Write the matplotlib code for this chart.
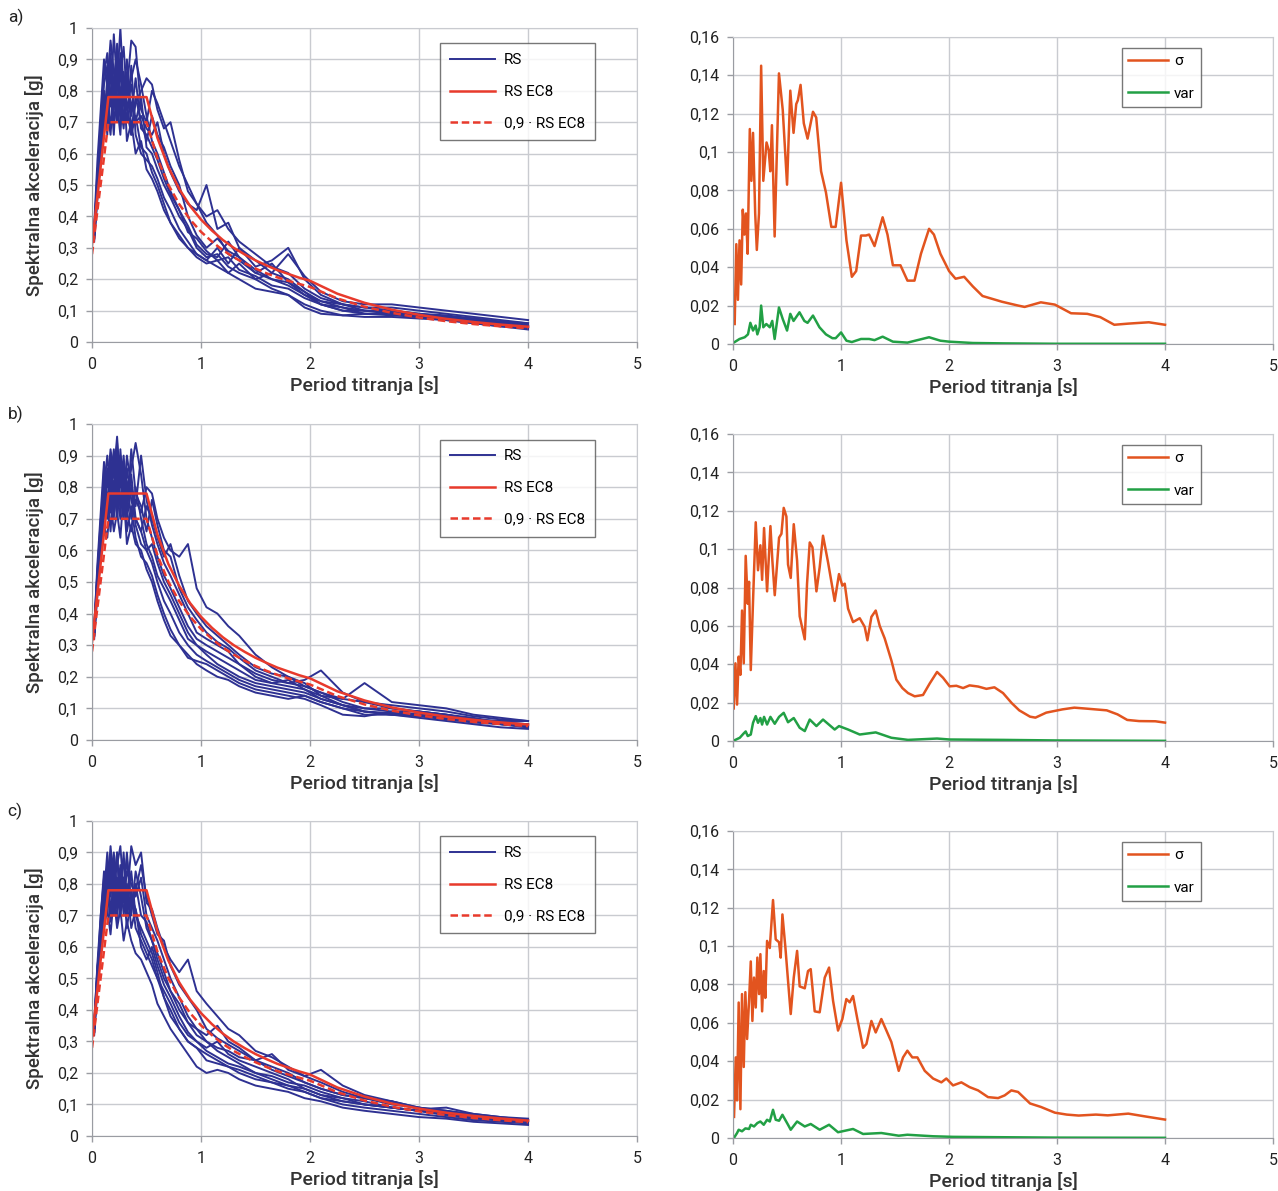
import matplotlib
matplotlib.use("Agg")
import matplotlib.pyplot as plt
from matplotlib.ticker import FuncFormatter, MultipleLocator

# --- response spectra (RS) of the records, common period grid [s] ---
period_rs = [0.02, 0.05, 0.08, 0.11, 0.14, 0.17, 0.2, 0.23, 0.26, 0.29, 0.32, 0.36, 0.4, 0.45, 0.5,
             0.55, 0.6, 0.66, 0.72, 0.8, 0.88, 0.96, 1.05, 1.15, 1.25, 1.35, 1.5, 1.65, 1.8, 1.95,
             2.1, 2.3, 2.5, 2.75, 3.0, 3.25, 3.5, 3.75, 4.0]

rs_a = [
    [0.33, 0.48, 0.62, 0.78, 0.72, 0.88, 0.80, 0.95, 0.78, 0.86, 0.74, 0.82, 0.70, 0.78, 0.62, 0.60, 0.55, 0.50, 0.46, 0.40,
     0.36, 0.30, 0.27, 0.28, 0.24, 0.22, 0.20, 0.17, 0.15, 0.12, 0.10, 0.085, 0.08, 0.08, 0.075, 0.07, 0.06, 0.05, 0.045],
    [0.36, 0.52, 0.70, 0.85, 0.92, 0.75, 0.98, 0.82, 1.0, 0.80, 0.90, 0.72, 0.84, 0.68, 0.66, 0.62, 0.58, 0.52, 0.47, 0.42,
     0.35, 0.33, 0.29, 0.26, 0.27, 0.23, 0.21, 0.18, 0.17, 0.14, 0.12, 0.10, 0.09, 0.09, 0.085, 0.08, 0.07, 0.06, 0.05],
    [0.34, 0.50, 0.66, 0.70, 0.84, 0.68, 0.78, 0.72, 0.88, 0.70, 0.80, 0.96, 0.94, 0.74, 0.70, 0.80, 0.76, 0.70, 0.64, 0.56,
     0.50, 0.44, 0.38, 0.34, 0.28, 0.26, 0.22, 0.20, 0.18, 0.15, 0.13, 0.12, 0.11, 0.11, 0.10, 0.09, 0.08, 0.07, 0.06],
    [0.35, 0.55, 0.60, 0.80, 0.66, 0.90, 0.70, 0.76, 0.66, 0.84, 0.64, 0.70, 0.60, 0.64, 0.55, 0.52, 0.48, 0.42, 0.38, 0.34,
     0.30, 0.28, 0.26, 0.30, 0.25, 0.30, 0.24, 0.26, 0.30, 0.20, 0.15, 0.12, 0.10, 0.09, 0.08, 0.075, 0.065, 0.055, 0.045],
    [0.32, 0.46, 0.58, 0.72, 0.78, 0.85, 0.74, 0.90, 0.72, 0.76, 0.86, 0.68, 0.76, 0.80, 0.84, 0.82, 0.74, 0.68, 0.70, 0.58,
     0.48, 0.44, 0.40, 0.42, 0.36, 0.32, 0.28, 0.24, 0.22, 0.17, 0.14, 0.12, 0.11, 0.10, 0.09, 0.085, 0.075, 0.065, 0.055],
    [0.37, 0.58, 0.74, 0.90, 0.82, 0.96, 0.86, 0.74, 0.92, 0.78, 0.70, 0.88, 0.66, 0.60, 0.58, 0.56, 0.52, 0.46, 0.42, 0.36,
     0.32, 0.28, 0.26, 0.24, 0.22, 0.20, 0.17, 0.16, 0.15, 0.11, 0.09, 0.085, 0.09, 0.09, 0.08, 0.07, 0.06, 0.05, 0.04],
    [0.34, 0.50, 0.64, 0.76, 0.70, 0.80, 0.66, 0.86, 0.76, 0.68, 0.82, 0.76, 0.70, 0.72, 0.68, 0.66, 0.70, 0.60, 0.54, 0.48,
     0.44, 0.42, 0.50, 0.36, 0.38, 0.30, 0.26, 0.22, 0.20, 0.16, 0.13, 0.11, 0.09, 0.085, 0.08, 0.075, 0.065, 0.055, 0.05],
    [0.33, 0.47, 0.61, 0.68, 0.74, 0.66, 0.82, 0.70, 0.80, 0.72, 0.76, 0.66, 0.72, 0.62, 0.60, 0.54, 0.50, 0.44, 0.38, 0.33,
     0.30, 0.27, 0.25, 0.26, 0.22, 0.25, 0.20, 0.22, 0.28, 0.21, 0.16, 0.13, 0.12, 0.12, 0.11, 0.10, 0.09, 0.08, 0.07],
    [0.35, 0.53, 0.68, 0.82, 0.88, 0.78, 0.84, 0.92, 0.70, 0.80, 0.74, 0.66, 0.78, 0.70, 0.64, 0.72, 0.66, 0.62, 0.56, 0.50,
     0.40, 0.34, 0.30, 0.33, 0.29, 0.27, 0.23, 0.20, 0.19, 0.16, 0.12, 0.10, 0.10, 0.10, 0.09, 0.08, 0.075, 0.065, 0.06],
    [0.34, 0.49, 0.63, 0.74, 0.80, 0.92, 0.76, 0.80, 0.86, 0.94, 0.78, 0.84, 0.90, 0.82, 0.72, 0.64, 0.60, 0.54, 0.48, 0.42,
     0.37, 0.31, 0.28, 0.27, 0.32, 0.27, 0.22, 0.25, 0.19, 0.15, 0.12, 0.11, 0.10, 0.095, 0.085, 0.08, 0.07, 0.06, 0.05],
]

rs_b = [
    [0.33, 0.50, 0.66, 0.82, 0.74, 0.88, 0.76, 0.94, 0.72, 0.84, 0.70, 0.80, 0.68, 0.62, 0.60, 0.56, 0.50, 0.44, 0.40, 0.34,
     0.30, 0.27, 0.25, 0.23, 0.21, 0.19, 0.17, 0.16, 0.15, 0.14, 0.12, 0.10, 0.09, 0.08, 0.075, 0.065, 0.055, 0.05, 0.045],
    [0.35, 0.56, 0.72, 0.88, 0.80, 0.92, 0.84, 0.96, 0.80, 0.90, 0.76, 0.86, 0.94, 0.84, 0.70, 0.64, 0.58, 0.52, 0.48, 0.42,
     0.36, 0.32, 0.30, 0.28, 0.26, 0.24, 0.21, 0.19, 0.18, 0.19, 0.22, 0.15, 0.12, 0.10, 0.09, 0.08, 0.065, 0.06, 0.06],
    [0.32, 0.48, 0.62, 0.70, 0.78, 0.66, 0.82, 0.70, 0.86, 0.74, 0.82, 0.70, 0.76, 0.72, 0.80, 0.78, 0.70, 0.64, 0.60, 0.58,
     0.62, 0.48, 0.42, 0.40, 0.36, 0.33, 0.27, 0.23, 0.20, 0.17, 0.15, 0.13, 0.12, 0.11, 0.10, 0.09, 0.075, 0.065, 0.06],
    [0.34, 0.52, 0.60, 0.76, 0.86, 0.72, 0.90, 0.78, 0.70, 0.88, 0.66, 0.74, 0.64, 0.58, 0.56, 0.52, 0.46, 0.40, 0.35, 0.30,
     0.27, 0.24, 0.22, 0.20, 0.19, 0.17, 0.15, 0.14, 0.13, 0.14, 0.12, 0.10, 0.08, 0.08, 0.07, 0.06, 0.05, 0.04, 0.035],
    [0.36, 0.54, 0.68, 0.74, 0.70, 0.84, 0.72, 0.80, 0.90, 0.70, 0.86, 0.76, 0.70, 0.66, 0.74, 0.70, 0.64, 0.58, 0.62, 0.52,
     0.44, 0.40, 0.36, 0.33, 0.30, 0.27, 0.23, 0.21, 0.20, 0.18, 0.14, 0.11, 0.09, 0.085, 0.08, 0.07, 0.06, 0.05, 0.045],
    [0.33, 0.46, 0.58, 0.68, 0.64, 0.76, 0.66, 0.72, 0.64, 0.78, 0.62, 0.68, 0.62, 0.60, 0.54, 0.50, 0.44, 0.38, 0.33, 0.30,
     0.26, 0.25, 0.24, 0.22, 0.20, 0.18, 0.16, 0.15, 0.14, 0.13, 0.11, 0.08, 0.075, 0.09, 0.08, 0.07, 0.06, 0.05, 0.04],
    [0.34, 0.51, 0.64, 0.80, 0.90, 0.78, 0.86, 0.74, 0.82, 0.76, 0.90, 0.80, 0.74, 0.90, 0.76, 0.68, 0.62, 0.56, 0.52, 0.46,
     0.40, 0.34, 0.32, 0.30, 0.28, 0.24, 0.20, 0.18, 0.17, 0.16, 0.14, 0.13, 0.18, 0.12, 0.11, 0.10, 0.08, 0.07, 0.06],
    [0.35, 0.53, 0.70, 0.72, 0.82, 0.90, 0.70, 0.88, 0.74, 0.80, 0.72, 0.66, 0.80, 0.70, 0.62, 0.58, 0.52, 0.48, 0.44, 0.38,
     0.32, 0.30, 0.27, 0.24, 0.22, 0.20, 0.18, 0.17, 0.16, 0.15, 0.13, 0.11, 0.10, 0.10, 0.09, 0.08, 0.065, 0.055, 0.05],
    [0.34, 0.52, 0.66, 0.86, 0.76, 0.82, 0.92, 0.80, 0.76, 0.86, 0.72, 0.92, 0.78, 0.74, 0.66, 0.76, 0.68, 0.60, 0.58, 0.48,
     0.42, 0.38, 0.34, 0.31, 0.29, 0.26, 0.22, 0.20, 0.18, 0.17, 0.15, 0.12, 0.10, 0.09, 0.09, 0.08, 0.07, 0.055, 0.05],
    [0.33, 0.49, 0.64, 0.78, 0.84, 0.76, 0.88, 0.70, 0.92, 0.78, 0.74, 0.84, 0.70, 0.66, 0.60, 0.62, 0.56, 0.50, 0.46, 0.40,
     0.34, 0.30, 0.28, 0.26, 0.24, 0.22, 0.19, 0.18, 0.19, 0.16, 0.13, 0.11, 0.09, 0.08, 0.08, 0.07, 0.06, 0.05, 0.04],
]

rs_c = [
    [0.33, 0.50, 0.64, 0.78, 0.70, 0.86, 0.74, 0.90, 0.72, 0.82, 0.70, 0.78, 0.66, 0.62, 0.58, 0.54, 0.50, 0.44, 0.40, 0.34,
     0.30, 0.28, 0.26, 0.24, 0.22, 0.20, 0.18, 0.17, 0.15, 0.14, 0.12, 0.10, 0.09, 0.08, 0.07, 0.06, 0.05, 0.045, 0.04],
    [0.35, 0.55, 0.70, 0.84, 0.78, 0.92, 0.80, 0.86, 0.92, 0.78, 0.88, 0.74, 0.80, 0.70, 0.68, 0.62, 0.56, 0.50, 0.46, 0.40,
     0.36, 0.32, 0.30, 0.27, 0.25, 0.23, 0.20, 0.19, 0.17, 0.16, 0.14, 0.12, 0.11, 0.09, 0.08, 0.07, 0.06, 0.05, 0.05],
    [0.32, 0.47, 0.60, 0.70, 0.80, 0.68, 0.84, 0.72, 0.80, 0.88, 0.74, 0.92, 0.86, 0.90, 0.74, 0.72, 0.66, 0.60, 0.56, 0.52,
     0.56, 0.46, 0.42, 0.38, 0.34, 0.32, 0.27, 0.25, 0.22, 0.19, 0.17, 0.14, 0.12, 0.10, 0.09, 0.08, 0.065, 0.055, 0.05],
    [0.34, 0.52, 0.66, 0.74, 0.86, 0.72, 0.78, 0.68, 0.84, 0.70, 0.80, 0.66, 0.72, 0.64, 0.60, 0.56, 0.50, 0.46, 0.42, 0.36,
     0.32, 0.30, 0.28, 0.30, 0.26, 0.24, 0.22, 0.20, 0.18, 0.15, 0.13, 0.11, 0.10, 0.09, 0.08, 0.07, 0.06, 0.05, 0.045],
    [0.36, 0.54, 0.62, 0.80, 0.74, 0.82, 0.90, 0.76, 0.86, 0.74, 0.84, 0.80, 0.76, 0.82, 0.70, 0.66, 0.62, 0.56, 0.50, 0.44,
     0.38, 0.34, 0.30, 0.28, 0.27, 0.25, 0.24, 0.26, 0.21, 0.19, 0.21, 0.16, 0.13, 0.11, 0.09, 0.075, 0.065, 0.055, 0.05],
    [0.33, 0.48, 0.58, 0.66, 0.72, 0.64, 0.76, 0.66, 0.72, 0.62, 0.68, 0.62, 0.58, 0.56, 0.52, 0.48, 0.42, 0.38, 0.34, 0.30,
     0.26, 0.22, 0.20, 0.21, 0.20, 0.18, 0.16, 0.15, 0.14, 0.12, 0.11, 0.09, 0.08, 0.07, 0.06, 0.055, 0.045, 0.04, 0.035],
    [0.34, 0.51, 0.68, 0.76, 0.90, 0.76, 0.86, 0.80, 0.74, 0.82, 0.76, 0.70, 0.84, 0.76, 0.66, 0.62, 0.58, 0.52, 0.46, 0.42,
     0.36, 0.34, 0.32, 0.35, 0.30, 0.28, 0.24, 0.22, 0.20, 0.17, 0.15, 0.13, 0.12, 0.11, 0.085, 0.09, 0.07, 0.06, 0.055],
    [0.35, 0.53, 0.64, 0.72, 0.76, 0.88, 0.70, 0.82, 0.76, 0.90, 0.72, 0.84, 0.70, 0.66, 0.62, 0.58, 0.52, 0.44, 0.38, 0.34,
     0.30, 0.28, 0.24, 0.23, 0.22, 0.21, 0.19, 0.17, 0.16, 0.15, 0.13, 0.12, 0.10, 0.09, 0.08, 0.07, 0.06, 0.05, 0.045],
    [0.35, 0.52, 0.70, 0.82, 0.74, 0.80, 0.88, 0.74, 0.82, 0.76, 0.90, 0.72, 0.78, 0.86, 0.76, 0.70, 0.64, 0.62, 0.54, 0.48,
     0.44, 0.40, 0.34, 0.31, 0.29, 0.27, 0.24, 0.21, 0.19, 0.17, 0.15, 0.13, 0.12, 0.11, 0.09, 0.08, 0.07, 0.06, 0.05],
    [0.33, 0.50, 0.62, 0.76, 0.84, 0.70, 0.80, 0.90, 0.70, 0.78, 0.66, 0.76, 0.72, 0.60, 0.56, 0.60, 0.54, 0.48, 0.44, 0.38,
     0.33, 0.30, 0.27, 0.25, 0.23, 0.22, 0.20, 0.18, 0.16, 0.14, 0.12, 0.11, 0.10, 0.09, 0.08, 0.065, 0.055, 0.05, 0.045],
]

# --- EC8 design spectrum and 0.9 * EC8 ---
period_ec8 = [0.0, 0.15, 0.5, 0.6, 0.7, 0.8, 0.9, 1.0, 1.1, 1.2, 1.3, 1.4, 1.5, 1.6, 1.7, 1.8, 1.9, 2.0,
              2.25, 2.5, 2.75, 3.0, 3.25, 3.5, 3.75, 4.0]
ec8 = [0.31, 0.78, 0.78, 0.65, 0.557, 0.4875, 0.433, 0.39, 0.355, 0.325, 0.30, 0.279, 0.26, 0.244, 0.229, 0.217,
       0.205, 0.195, 0.154, 0.125, 0.103, 0.0867, 0.0738, 0.0637, 0.0555, 0.0488]
ec8_90 = [0.28, 0.70, 0.70, 0.585, 0.501, 0.439, 0.39, 0.351, 0.32, 0.2925, 0.27, 0.251, 0.234, 0.219, 0.206,
          0.195, 0.185, 0.1755, 0.139, 0.1125, 0.093, 0.078, 0.0665, 0.0573, 0.05, 0.0439]

# --- standard deviation and variance ---
sigma_a_t = [0.015, 0.03, 0.045, 0.06, 0.075, 0.09, 0.105, 0.12, 0.135, 0.155, 0.17, 0.185, 0.205, 0.22, 0.24,
             0.26, 0.28, 0.31, 0.33, 0.345, 0.36, 0.385, 0.425, 0.46, 0.50, 0.53, 0.56, 0.585, 0.60, 0.625,
             0.655, 0.69, 0.74, 0.77, 0.815, 0.86, 0.91, 0.95, 1.0, 1.05, 1.10, 1.14, 1.185, 1.23, 1.26,
             1.31, 1.385, 1.43, 1.48, 1.55, 1.615, 1.68, 1.74, 1.815, 1.86, 1.92, 2.0, 2.06, 2.14, 2.22,
             2.31, 2.37, 2.49, 2.64, 2.70, 2.85, 2.98, 3.13, 3.28, 3.40, 3.53, 3.66, 3.85, 4.0]
sigma_a = [0.0104, 0.052, 0.023, 0.054, 0.031, 0.070, 0.057, 0.068, 0.047, 0.112, 0.085, 0.110, 0.068, 0.049, 0.068,
           0.145, 0.085, 0.105, 0.101, 0.090, 0.114, 0.056, 0.141, 0.122, 0.083, 0.132, 0.110, 0.125, 0.127, 0.135,
           0.115, 0.107, 0.121, 0.118, 0.090, 0.079, 0.061, 0.061, 0.084, 0.054, 0.035, 0.038, 0.0565, 0.0565, 0.057,
           0.051, 0.066, 0.057, 0.041, 0.041, 0.033, 0.033, 0.047, 0.060, 0.057, 0.047, 0.038, 0.034, 0.035, 0.030,
           0.025, 0.024, 0.022, 0.020, 0.0193, 0.0217, 0.0205, 0.016, 0.0157, 0.014, 0.010, 0.0106, 0.0113, 0.010]
var_a_t = [0.015, 0.06, 0.108, 0.138, 0.16, 0.185, 0.209, 0.225, 0.246, 0.26, 0.28, 0.308, 0.34, 0.363, 0.385,
           0.425, 0.46, 0.50, 0.53, 0.56, 0.615, 0.66, 0.69, 0.74, 0.80, 0.86, 0.92, 0.95, 1.0, 1.05,
           1.10, 1.185, 1.26, 1.31, 1.385, 1.48, 1.615, 1.815, 1.92, 2.0, 2.22, 2.5, 3.0, 4.0]
var_a = [0.001, 0.0026, 0.0035, 0.005, 0.011, 0.007, 0.0096, 0.005, 0.0087, 0.020, 0.0087, 0.0104, 0.0087, 0.012,
         0.0026, 0.019, 0.013, 0.007, 0.0157, 0.012, 0.0165, 0.012, 0.011, 0.0148, 0.0087, 0.005, 0.003, 0.003,
         0.006, 0.0017, 0.001, 0.0026, 0.0026, 0.002, 0.0038, 0.0012, 0.0007, 0.0035, 0.0017, 0.0012, 0.0005,
         0.0003, 0.0001, 0.0001]

sigma_b_t = [0.006, 0.022, 0.037, 0.052, 0.068, 0.083, 0.099, 0.117, 0.136, 0.148, 0.164, 0.185, 0.21, 0.231, 0.253,
             0.269, 0.287, 0.315, 0.346, 0.364, 0.386, 0.426, 0.448, 0.469, 0.494, 0.509, 0.534, 0.562, 0.593, 0.617,
             0.664, 0.685, 0.71, 0.735, 0.772, 0.802, 0.833, 0.88, 0.941, 0.981, 1.012, 1.034, 1.065, 1.111, 1.173,
             1.219, 1.244, 1.281, 1.321, 1.358, 1.404, 1.466, 1.512, 1.568, 1.62, 1.682, 1.759, 1.821, 1.889, 1.944,
             2.006, 2.068, 2.13, 2.19, 2.27, 2.346, 2.42, 2.5, 2.58, 2.65, 2.75, 2.80, 2.90, 3.05, 3.16,
             3.27, 3.46, 3.56, 3.65, 3.76, 3.91, 4.0]
sigma_b = [0.017, 0.0405, 0.019, 0.044, 0.0345, 0.068, 0.0405, 0.0965, 0.0715, 0.083, 0.037, 0.073, 0.114, 0.089,
           0.102, 0.084, 0.111, 0.078, 0.112, 0.094, 0.076, 0.106, 0.108, 0.1215, 0.117, 0.092, 0.085, 0.113, 0.094,
           0.065, 0.053, 0.082, 0.1035, 0.101, 0.078, 0.0905, 0.107, 0.093, 0.073, 0.087, 0.081, 0.082, 0.069,
           0.062, 0.064, 0.0595, 0.0525, 0.0647, 0.068, 0.060, 0.0535, 0.042, 0.032, 0.0276, 0.025, 0.0233, 0.024,
           0.030, 0.036, 0.033, 0.0285, 0.0288, 0.0276, 0.029, 0.0284, 0.0272, 0.028, 0.025, 0.0198, 0.016, 0.0127,
           0.0122, 0.0148, 0.0165, 0.0174, 0.0169, 0.016, 0.0139, 0.011, 0.0104, 0.0103, 0.0096]
var_b_t = [0.006, 0.062, 0.099, 0.117, 0.136, 0.164, 0.185, 0.21, 0.231, 0.253, 0.269, 0.287, 0.315, 0.346, 0.386,
           0.426, 0.469, 0.509, 0.562, 0.617, 0.664, 0.71, 0.772, 0.833, 0.941, 0.981, 1.065, 1.173, 1.321, 1.466,
           1.62, 1.889, 2.006, 2.5, 3.0, 4.0]
var_b = [0.0002, 0.0017, 0.004, 0.005, 0.0026, 0.0034, 0.0095, 0.013, 0.0095, 0.012, 0.0086, 0.0126, 0.0086, 0.0126,
         0.009, 0.0126, 0.0147, 0.0098, 0.012, 0.0069, 0.0052, 0.0112, 0.0078, 0.0112, 0.006, 0.0078, 0.006, 0.0034,
         0.0045, 0.0017, 0.0006, 0.0013, 0.0008, 0.0006, 0.0003, 0.0001]

sigma_c_t = [0.009, 0.025, 0.037, 0.052, 0.068, 0.083, 0.099, 0.114, 0.13, 0.148, 0.164, 0.179, 0.194, 0.21, 0.225,
             0.241, 0.253, 0.269, 0.284, 0.299, 0.315, 0.34, 0.37, 0.395, 0.426, 0.441, 0.457, 0.485, 0.509, 0.534,
             0.562, 0.593, 0.617, 0.664, 0.694, 0.719, 0.756, 0.802, 0.849, 0.889, 0.926, 0.972, 1.012, 1.049, 1.08,
             1.111, 1.151, 1.204, 1.235, 1.281, 1.321, 1.373, 1.42, 1.466, 1.534, 1.574, 1.614, 1.66, 1.707, 1.775,
             1.852, 1.929, 1.975, 2.037, 2.114, 2.191, 2.269, 2.361, 2.454, 2.515, 2.577, 2.639, 2.75, 2.85, 2.98,
             3.09, 3.2, 3.36, 3.47, 3.66, 3.81, 4.0]
sigma_c = [0.011, 0.042, 0.0196, 0.0706, 0.015, 0.075, 0.037, 0.076, 0.0516, 0.0715, 0.092, 0.061, 0.0836, 0.068,
           0.094, 0.075, 0.0958, 0.066, 0.087, 0.073, 0.1027, 0.099, 0.124, 0.1035, 0.102, 0.094, 0.1165, 0.099,
           0.082, 0.0646, 0.0836, 0.0975, 0.079, 0.078, 0.087, 0.088, 0.066, 0.0655, 0.0836, 0.0888, 0.0715, 0.056,
           0.062, 0.0724, 0.0707, 0.074, 0.062, 0.047, 0.049, 0.061, 0.055, 0.062, 0.056, 0.05, 0.035, 0.042, 0.0455,
           0.042, 0.042, 0.035, 0.031, 0.029, 0.031, 0.0274, 0.029, 0.0265, 0.0248, 0.0213, 0.0208, 0.0222, 0.0248,
           0.024, 0.018, 0.0162, 0.0132, 0.0122, 0.0117, 0.0122, 0.0118, 0.0127, 0.0113, 0.0096]
var_c_t = [0.009, 0.037, 0.052, 0.083, 0.114, 0.148, 0.164, 0.194, 0.225, 0.253, 0.284, 0.315, 0.34, 0.37, 0.395,
           0.426, 0.457, 0.509, 0.534, 0.593, 0.664, 0.719, 0.802, 0.889, 0.972, 1.111, 1.204, 1.373, 1.534, 1.614,
           1.852, 2.037, 2.5, 3.0, 4.0]
var_c = [0.0001, 0.0026, 0.0043, 0.0035, 0.005, 0.0047, 0.0069, 0.006, 0.0078, 0.0086, 0.0069, 0.0095, 0.0086,
         0.0147, 0.0095, 0.009, 0.0121, 0.0069, 0.0043, 0.0086, 0.006, 0.0073, 0.0043, 0.0069, 0.003, 0.0047,
         0.0021, 0.0026, 0.0012, 0.0017, 0.0009, 0.0006, 0.0004, 0.0002, 0.0001]

panel_labels = ["a)", "b)", "c)"]

BLUE = "#2E3192"
RED = "#E83A2C"
ORANGE = "#E2541F"
GREEN = "#22A045"
GRID = "#C9CBD0"
FONT = "Roboto"

plt.rcParams['font.family'] = [FONT, 'DejaVu Sans']


def comma(v, pos):
    return "{:g}".format(round(v, 4)).replace(".", ",")


def style_axes(ax, ymax, ystep):
    ax.set_xlim(0, 5)
    ax.set_ylim(0, ymax)
    ax.xaxis.set_major_locator(MultipleLocator(1))
    ax.yaxis.set_major_locator(MultipleLocator(ystep))
    ax.xaxis.set_major_formatter(FuncFormatter(comma))
    ax.yaxis.set_major_formatter(FuncFormatter(comma))
    ax.grid(True, color=GRID, linewidth=1.0)
    ax.set_axisbelow(True)
    for side in ["top", "right"]:
        ax.spines[side].set_color(GRID)
    for side in ["left", "bottom"]:
        ax.spines[side].set_color("#9A9CA2")
    ax.tick_params(axis="both", colors="#9A9CA2", labelcolor="#222222", labelsize=11.5, length=4, width=1)
    ax.tick_params(axis="x", pad=7)
    ax.tick_params(axis="y", pad=6)
    ax.set_xlabel("Period titranja [s]", fontsize=14, fontweight="medium", color="#333333", labelpad=3)


fig = plt.figure(figsize=(12.78, 11.91), dpi=100)

left_pos = [(0.072, 0.7128, 0.4265, 0.2637), (0.072, 0.3787, 0.4265, 0.2653), (0.072, 0.0462, 0.4265, 0.2645)]
right_pos = [(0.5736, 0.7112, 0.4225, 0.2578), (0.5736, 0.3778, 0.4225, 0.2578), (0.5736, 0.0445, 0.4225, 0.2578)]
label_y = [0.985, 0.652, 0.319]

rs_sets = [rs_a, rs_b, rs_c]
sigma_sets = [(sigma_a_t, sigma_a, var_a_t, var_a), (sigma_b_t, sigma_b, var_b_t, var_b),
              (sigma_c_t, sigma_c, var_c_t, var_c)]

for i in range(3):
    # left: spectra
    ax = fig.add_axes(left_pos[i])
    for k, curve in enumerate(rs_sets[i]):
        ax.plot(period_rs, curve, color=BLUE, linewidth=1.4, label="RS" if k == 0 else None)
    ax.plot(period_ec8, ec8, color=RED, linewidth=1.8, label="RS EC8")
    ax.plot(period_ec8, ec8_90, color=RED, linewidth=1.8, linestyle=(0, (3, 1.5)), label="0,9 · RS EC8")
    style_axes(ax, 1.0, 0.1)
    ax.set_ylabel("Spektralna akceleracija [g]", fontsize=13.5, fontweight="medium", color="#333333", labelpad=9)
    leg = ax.legend(loc="upper left", bbox_to_anchor=(0.625, 0.975), fontsize=11, frameon=True, fancybox=False,
                    edgecolor="#555555", labelspacing=1.15, handlelength=2.9, borderpad=0.65, handletextpad=0.6)
    leg.get_frame().set_linewidth(1.0)

    # right: sigma and variance
    st, sv, vt, vv = sigma_sets[i]
    ax2 = fig.add_axes(right_pos[i])
    ax2.plot(st, sv, color=ORANGE, linewidth=1.8, label="σ")
    ax2.plot(vt, vv, color=GREEN, linewidth=1.8, label="var")
    style_axes(ax2, 0.16, 0.02)
    leg2 = ax2.legend(loc="upper left", bbox_to_anchor=(0.706, 0.988), fontsize=11, frameon=True, fancybox=False,
                      edgecolor="#555555", labelspacing=1.2, handlelength=2.6, borderpad=0.4, handletextpad=0.4)
    leg2.get_frame().set_linewidth(1.0)

    fig.text(0.006, label_y[i], panel_labels[i], fontsize=12.5, color="#222222", va="center", ha="left")

fig.savefig("out.png", dpi=100)
